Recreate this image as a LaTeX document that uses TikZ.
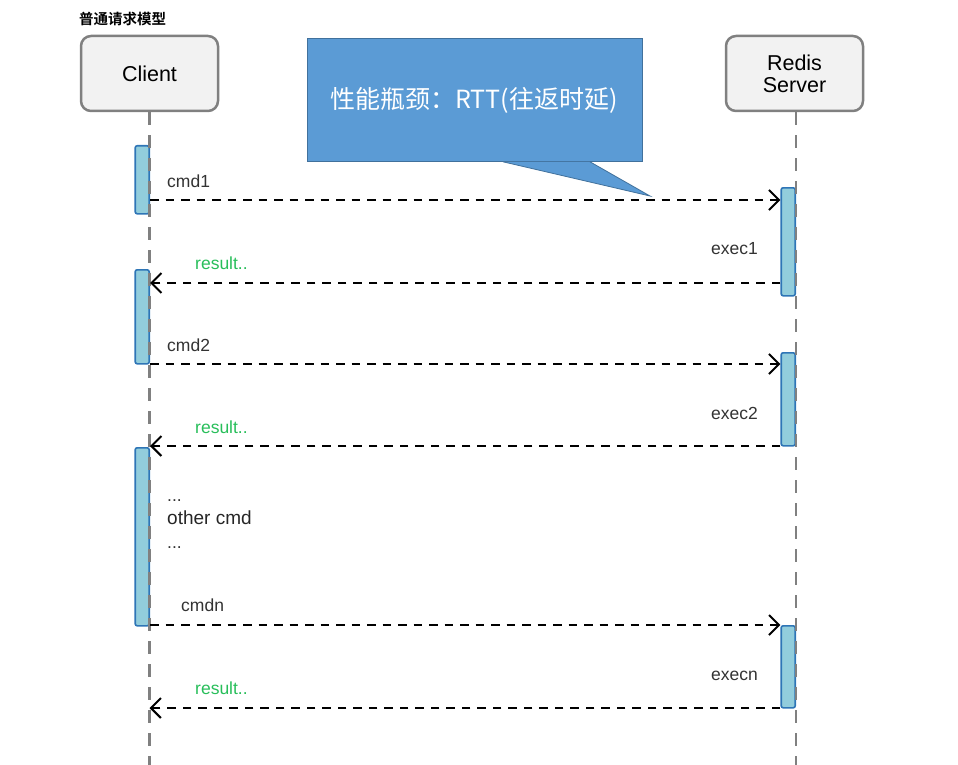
\documentclass[tikz,border=0pt]{standalone}
\usepackage{fontspec}
\setmainfont{Liberation Sans}
\newfontfamily\cjk{Noto Sans CJK SC}
\newfontfamily\cjkb{Noto Sans CJK SC Bold}
\usetikzlibrary{arrows.meta}
\definecolor{actfill}{RGB}{242,242,242}
\definecolor{actdraw}{RGB}{128,128,128}
\definecolor{barfill}{RGB}{146,205,220}
\definecolor{bardraw}{RGB}{46,117,182}
\definecolor{callfill}{RGB}{91,155,213}
\definecolor{calldraw}{RGB}{65,113,156}
\definecolor{resgreen}{RGB}{40,190,90}
\definecolor{lbl}{RGB}{51,51,51}
\tikzset{
  actor/.style={draw=actdraw, fill=actfill, line width=2.5pt, rounded corners=10pt,
    minimum width=137pt, minimum height=75pt, align=center, inner sep=0pt,
    font=\fontsize{21.5}{24}\selectfont},
  lifeline/.style={draw=actdraw, line width=2.8pt, dash pattern=on 13pt off 10pt},
  actbar/.style={draw=bardraw, fill=barfill, line width=1.6pt, rounded corners=2pt,
    minimum width=14pt, inner sep=0pt, anchor=north east},
  msg/.style={draw=black, line width=2.2pt, dash pattern=on 8.5pt off 7pt,
    -{Straight Barb[length=10pt,width=20pt,line width=2pt]}},
  lab/.style={font=\fontsize{17.5}{20}\selectfont, text=lbl, inner sep=0pt, anchor=base west},
  res/.style={lab, text=resgreen},
}
\begin{document}
\begin{tikzpicture}[x=1pt,y=-1pt]
\useasboundingbox (0,0) rectangle (958,765);
% title
\node[anchor=base west, inner sep=0pt, font=\cjkb\fontsize{14.5}{16}\selectfont] (title) at (79,25) {普通请求模型};
% actors
\node[actor] (client) at (149.5,73.5) {Client};
\node[actor] (server) at (794.5,73.5) {Redis\\[-2pt]Server};
\coordinate (cend) at (149.5,768);
\coordinate (send) at (796,768);
% activation bars
\node[actbar, minimum height=68pt] (cb1) at (150,145) {};
\node[actbar, minimum height=94pt] (cb2) at (150,269) {};
\node[actbar, minimum height=178pt] (cb3) at (150,447) {};
\node[actbar, minimum height=108pt] (sb1) at (796,187) {};
\node[actbar, minimum height=93pt] (sb2) at (796,352) {};
\node[actbar, minimum height=82pt] (sb3) at (796,625) {};
% lifelines
\draw[lifeline] (client.south) -- (cend);
\draw[lifeline] (server.south -| send) -- (send);
% message rows
\coordinate (y1) at (0,200);
\coordinate (y2) at (0,283);
\coordinate (y3) at (0,364);
\coordinate (y4) at (0,446);
\coordinate (y5) at (0,625);
\coordinate (y6) at (0,708);
\draw[msg] (cb1.east |- y1) -- (sb1.west |- y1);
\draw[msg] (sb1.west |- y2) -- (cb2.east |- y2);
\draw[msg] (cb2.east |- y3) -- (sb2.west |- y3);
\draw[msg] (sb2.west |- y4) -- (cb3.east |- y4);
\draw[msg] (cb3.east |- y5) -- (sb3.west |- y5);
\draw[msg] (sb3.west |- y6) -- (cend |- y6);
% labels
\node[lab] (l1) at (167,187) {cmd1};
\node[res] (l2) at (195,269) {result..};
\node[lab] (e1) at (711,254) {exec1};
\node[lab] (l3) at (167,351) {cmd2};
\node[res] (l4) at (195,433) {result..};
\node[lab] (e2) at (711,419) {exec2};
\node[lab] (d1) at (167,501) {...};
\node[lab, font=\fontsize{19}{21}\selectfont, text=black!85] (oc) at (167,524) {other cmd};
\node[lab] (d2) at (167,548) {...};
\node[lab] (l5) at (181,611) {cmdn};
\node[res] (l6) at (195,694) {result..};
\node[lab] (e3) at (711,680) {execn};
% callout
\node[draw=calldraw, fill=callfill, line width=0.8pt, minimum width=335pt, minimum height=123pt,
  inner sep=0pt, anchor=north west] (call) at (307,38) {};
\coordinate (tip) at (650,196);
\fill[callfill] ([xshift=196pt]call.south west) -- (tip) -- ([xshift=283pt]call.south west) -- cycle;
\draw[calldraw, line width=0.8pt] ([xshift=196pt]call.south west) -- (tip) -- ([xshift=283pt]call.south west);
\node[text=white, font=\cjk\fontsize{25}{28}\selectfont, inner sep=0pt] (calltext) at (474,100) {性能瓶颈：RTT(往返时延)};
\end{tikzpicture}
\end{document}
